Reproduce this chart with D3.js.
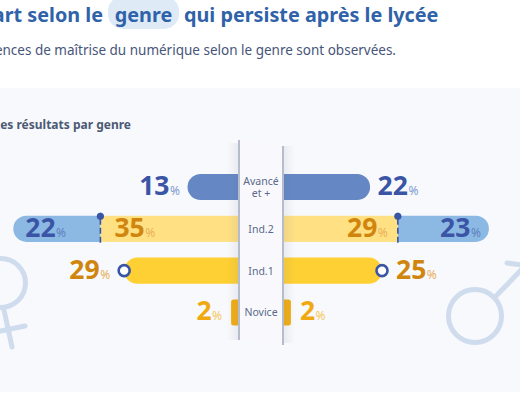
<!DOCTYPE html>
<html>
<head>
<meta charset="utf-8">
<script src="https://cdn.jsdelivr.net/npm/d3@7"></script>
<style>
  html, body { margin: 0; padding: 0; background: #fff; overflow: hidden; }
  svg { display: block; font-family: "Noto Sans", sans-serif; }
</style>
</head>
<body>
<script>
// Chart values
var categories = ["Avancé et +", "Ind.2", "Ind.1", "Novice"];
var womenInner = [13, 35, 29, 2];
var menInner = [22, 29, 25, 2];
var womenOuter = [0, 22, 0, 0];
var menOuter = [0, 23, 0, 0];

var svgWidth = 520;
var svgHeight = 395;

var svg = d3.select("body")
  .append("svg")
  .attr("width", svgWidth)
  .attr("height", svgHeight);

var blue = "#3a55a5";
var ochre = "#d0860e";
var innerColors = ["#6588c4", "#ffe083", "#ffd033", "#f2ae13"];
var textColors = [blue, ochre, ochre, "#f0a911"];
var pctColors = ["#7f9ad0", "#e8b05a", "#e8b05a", "#f6c860"];

// Header
svg.append("rect").attr("x", 108).attr("y", -4).attr("width", 71).attr("height", 33)
  .attr("rx", 15).attr("fill", "#deeaf6");
var titleColor = "#2f62a8";
[["Un écart selon le", 103, "end"], ["genre", 143.5, "middle"], ["qui persiste après le lycée", 184, "start"]]
  .forEach(function(t) {
    svg.append("text").attr("x", t[1]).attr("y", 22).attr("text-anchor", t[2])
      .attr("font-size", 19.8).attr("font-weight", 700).attr("fill", titleColor).text(t[0]);
  });
svg.append("text").attr("x", 396).attr("y", 55).attr("text-anchor", "end")
  .attr("font-size", 13.5).attr("fill", "#47557a")
  .text("Des différences de maîtrise du numérique selon le genre sont observées.");

// Panel background
svg.append("rect").attr("x", 0).attr("y", 88).attr("width", svgWidth).attr("height", 304)
  .attr("fill", "#f8f9fc");
svg.append("text").attr("x", 131).attr("y", 129).attr("text-anchor", "end")
  .attr("font-size", 12).attr("font-weight", 700).attr("fill", "#4d5a75")
  .text("Les résultats par genre");

// Gender symbols behind the bars
var symbols = svg.append("g").attr("fill", "none").attr("stroke", "#cfdcee")
  .attr("stroke-width", 5).attr("stroke-linecap", "round");
symbols.append("circle").attr("cx", 1).attr("cy", 283).attr("r", 24.5);
symbols.append("path").attr("d", "M4,310L12,347M-14,334L25,326");
symbols.append("circle").attr("cx", 475).attr("cy", 316).attr("r", 26.5);
symbols.append("path").attr("d", "M496,296L526,265M507,263L530,266");

// Scales: each side grows outward from its edge of the central column
var xLeft = d3.scaleLinear().domain([0, 60]).range([239, 239 - 60 * 3.96]);
var xRight = d3.scaleLinear().domain([0, 60]).range([283, 283 + 60 * 3.96]);
var y = d3.scaleBand().domain(categories).range([174, 325.5]).paddingInner(0.375).paddingOuter(0);

// Rectangle with rounded corners on the outer end only
function barPath(x0, x1, y0, h, r) {
  var s = x1 > x0 ? 1 : -1;
  return "M" + x0 + "," + y0 +
    "L" + (x1 - s * r) + "," + y0 +
    "A" + r + "," + r + " 0 0 " + (s > 0 ? 1 : 0) + " " + x1 + "," + (y0 + r) +
    "L" + x1 + "," + (y0 + h - r) +
    "A" + r + "," + r + " 0 0 " + (s > 0 ? 1 : 0) + " " + (x1 - s * r) + "," + (y0 + h) +
    "L" + x0 + "," + (y0 + h) + "Z";
}

var h = y.bandwidth();
var sides = [
  { x: xLeft, inner: womenInner, outer: womenOuter, dir: -1 },
  { x: xRight, inner: menInner, outer: menOuter, dir: 1 }
];

function addValue(g, px, py, anchor, value, color, pctColor) {
  var t = g.append("text").attr("x", px).attr("y", py).attr("text-anchor", anchor)
    .attr("font-size", 26.5).attr("font-weight", 700).attr("fill", color);
  t.append("tspan").text(value);
  t.append("tspan").attr("font-size", 12).attr("font-weight", 400).attr("dx", 0.5)
    .attr("fill", pctColor).text("%");
}

sides.forEach(function(side) {
  var g = svg.append("g");
  categories.forEach(function(cat, i) {
    var top = y(cat);
    var base = side.x(0);
    var innerEnd = side.x(side.inner[i]);
    var hasOuter = side.outer[i] > 0;
    var baseline = top + 21;

    if (hasOuter) {
      var outerEnd = side.x(side.inner[i] + side.outer[i]);
      g.append("path").attr("d", barPath(innerEnd, outerEnd, top, h, h / 2)).attr("fill", "#8cb8e4");
      g.append("rect").attr("x", Math.min(base, innerEnd)).attr("y", top)
        .attr("width", Math.abs(innerEnd - base)).attr("height", h).attr("fill", innerColors[i]);
      // dashed marker between the two segments
      g.append("line").attr("x1", innerEnd).attr("x2", innerEnd).attr("y1", top - 3).attr("y2", top + h + 1)
        .attr("stroke", blue).attr("stroke-width", 1.6).attr("stroke-dasharray", "12 3 6 3 6");
      g.append("circle").attr("cx", innerEnd).attr("cy", top + 0.5).attr("r", 3.6).attr("fill", blue);
      if (side.dir < 0) {
        addValue(g, outerEnd + 12, baseline, "start", side.outer[i], blue, "#5f82c0");
        addValue(g, innerEnd + 14, baseline, "start", side.inner[i], ochre, "#e8b05a");
      } else {
        addValue(g, innerEnd - 10, baseline, "end", side.inner[i], ochre, "#e8b05a");
        addValue(g, outerEnd - 8, baseline, "end", side.outer[i], blue, "#5f82c0");
      }
    } else {
      var radius = side.inner[i] < 5 ? 2.5 : h / 2;
      g.append("path").attr("d", barPath(base, innerEnd, top, h, radius)).attr("fill", innerColors[i]);
      var gap = i === 0 ? 7.5 : 9;
      if (i === 2) {
        gap = 14;
        g.append("circle").attr("cx", innerEnd).attr("cy", top + h / 2).attr("r", 5.5)
          .attr("fill", "#fff").attr("stroke", blue).attr("stroke-width", 2.6);
      }
      addValue(g, innerEnd + side.dir * gap, baseline, side.dir < 0 ? "end" : "start",
        side.inner[i], textColors[i], pctColors[i]);
    }
  });
});

// Soft shadow on the bars next to the central column
var defs = svg.append("defs");
[["shadeL", 1, 0], ["shadeR", 0, 1]].forEach(function(d) {
  var grad = defs.append("linearGradient").attr("id", d[0])
    .attr("x1", d[1]).attr("x2", d[2]).attr("y1", 0).attr("y2", 0);
  grad.append("stop").attr("offset", 0).attr("stop-color", "#5a6488").attr("stop-opacity", 0.1);
  grad.append("stop").attr("offset", 1).attr("stop-color", "#5a6488").attr("stop-opacity", 0);
});
svg.append("rect").attr("x", 227).attr("y", 143).attr("width", 12).attr("height", 197).attr("fill", "url(#shadeL)");
svg.append("rect").attr("x", 283).attr("y", 146).attr("width", 12).attr("height", 197).attr("fill", "url(#shadeR)");

// Central column
svg.append("polygon").attr("points", "239,140 283,146 283,345 239,340").attr("fill", "#f9f9fd");
var edges = svg.append("g").attr("stroke", "#b4bccd").attr("stroke-width", 2);
edges.append("line").attr("x1", 239).attr("x2", 239).attr("y1", 140).attr("y2", 340);
edges.append("line").attr("x1", 283).attr("x2", 283).attr("y1", 146).attr("y2", 345);

// Category labels
var labelRows = [["Avancé", "et +"], ["Ind.2"], ["Ind.1"], ["Novice"]];
categories.forEach(function(cat, i) {
  var mid = y(cat) + h / 2;
  var n = labelRows[i].length;
  var label = svg.append("text").attr("text-anchor", "middle").attr("font-size", 10.5).attr("fill", "#5a6a8a");
  labelRows[i].forEach(function(line, k) {
    label.append("tspan").attr("x", 261)
      .attr("y", mid + 4 + (k - (n - 1) / 2) * 11.5)
      .text(line);
  });
});
</script>
</body>
</html>
